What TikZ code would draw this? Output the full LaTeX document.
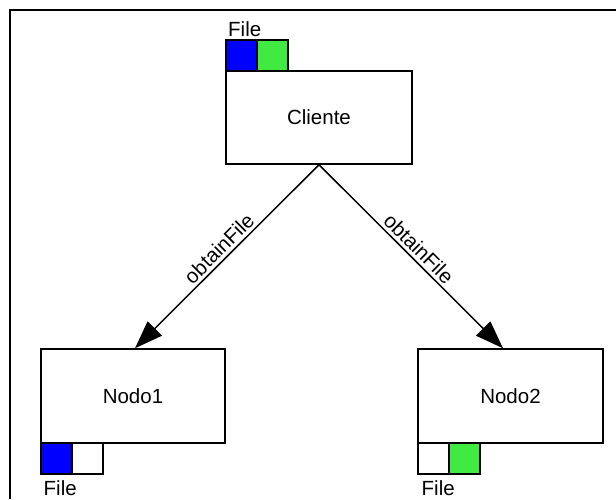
\documentclass[tikz,border=0pt]{standalone}
\usepackage{fontspec}
\setmainfont{Liberation Sans}
\usetikzlibrary{arrows.meta,calc}
\definecolor{fileblue}{RGB}{0,0,255}
\definecolor{filegreen}{RGB}{64,234,64}
\begin{document}
\begin{tikzpicture}[x=1pt,y=-1pt,
  every node/.style={font=\fontsize{20.5}{24}\selectfont},
  hostbox/.style={draw, line width=1.5pt, rectangle, inner sep=0pt},
  chunk/.style={draw, line width=1.5pt},
  filelabel/.style={anchor=base west, inner sep=0pt},
  call/.style={line width=1.5pt, -{Triangle[length=28pt,width=20pt]}},
  calllabel/.style={midway, sloped, above, inner sep=3pt}]
\useasboundingbox (0,0) rectangle (616,499);
% outer frame (left and top edges visible)
\draw[line width=2pt] (10.3,499) -- (10.3,10.3) -- (616,10.3);

% hosts
\node[hostbox, minimum width=186pt, minimum height=93pt] (cl) at (319,117.5) {Cliente};
\node[hostbox, minimum width=184pt, minimum height=94pt] (n1) at (133,396) {Nodo1};
\node[hostbox, minimum width=185pt, minimum height=94pt] (n2) at (510.5,396) {Nodo2};

% file chunks held by each host
\filldraw[chunk, fill=fileblue] (226,40) rectangle (257,71);
\filldraw[chunk, fill=filegreen] (257,40) rectangle (288,71);
\node[filelabel] (fcl) at (228,36.5) {File};

\filldraw[chunk, fill=fileblue] (41,443) rectangle (72,474);
\draw[chunk] (72,443) rectangle (103,474);
\node[filelabel] (fn1) at (43.5,495) {File};

\draw[chunk] (418,443) rectangle (449,474);
\filldraw[chunk, fill=filegreen] (449,443) rectangle (480,474);
\node[filelabel] (fn2) at (421.5,495) {File};

% requests
\coordinate (t1) at ($(n1.north)+(2,0)$);
\coordinate (t2) at ($(n2.north)+(-7.5,0)$);
\draw[call] (cl.south) -- (t1) node[calllabel] {obtainFile};
\draw[call] (cl.south) -- (t2) node[calllabel] {obtainFile};
\end{tikzpicture}
\end{document}
